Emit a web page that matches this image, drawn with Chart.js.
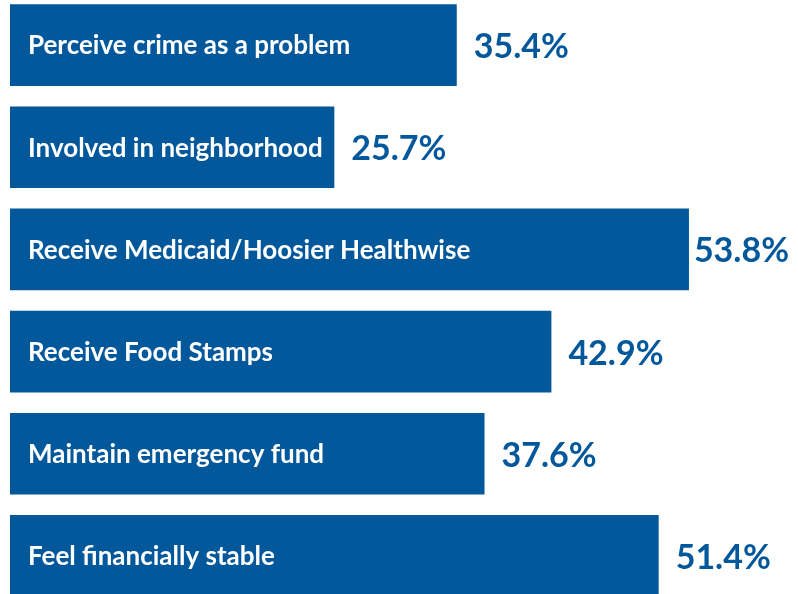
<!DOCTYPE html>
<html>
<head>
<meta charset="utf-8">
<script src="https://cdn.jsdelivr.net/npm/chart.js@4.4.1/dist/chart.umd.min.js"></script>
<style>
  html, body { margin: 0; padding: 0; background: #fff; overflow: hidden; }
  #wrap { position: absolute; left: 0; top: -6px; width: 798px; height: 613px; }
</style>
</head>
<body>
<div id="wrap"><canvas id="bars" width="798" height="613"></canvas></div>
<script>
var categories = [
	"Perceive crime as a problem",
	"Involved in neighborhood",
	"Receive Medicaid/Hoosier Healthwise",
	"Receive Food Stamps",
	"Maintain emergency fund",
	"Feel financially stable"
];
var percents = [35.4, 25.7, 53.8, 42.9, 37.6, 51.4];
var valueLabels = ["35.4%", "25.7%", "53.8%", "42.9%", "37.6%", "51.4%"];

var BLUE = "#03589b";
var FONT = "Lato, 'Open Sans', sans-serif";

// white names inside the bars, blue percentages just past the bar ends
var barText = {
	id: "barText",
	afterDatasetsDraw: function(chart) {
		var ctx = chart.ctx;
		var meta = chart.getDatasetMeta(0);
		ctx.save();
		ctx.textBaseline = "alphabetic";
		ctx.textAlign = "left";
		for (var i = 0; i < meta.data.length; i++) {
			var bar = meta.data[i];
			ctx.fillStyle = "#ffffff";
			ctx.font = "bold 26px " + FONT;
			ctx.fillText(categories[i], bar.base + 18, bar.y + 9.3);
			ctx.fillStyle = BLUE;
			ctx.font = "bold 34px " + FONT;
			var w = ctx.measureText(valueLabels[i]).width;
			// keep the longest value inside the canvas
			var x = Math.min(bar.x + 17, chart.width - 9 - w);
			ctx.fillText(valueLabels[i], x, bar.y + 13);
		}
		ctx.restore();
	}
};

new Chart(document.getElementById("bars").getContext("2d"), {
	type: "bar",
	data: {
		labels: categories,
		datasets: [{
			data: percents,
			backgroundColor: BLUE,
			borderWidth: 0,
			barPercentage: 0.8,
			categoryPercentage: 1.0
		}]
	},
	options: {
		indexAxis: "y",
		responsive: false,
		animation: false,
		layout: { padding: { left: 10, right: 0, top: 0, bottom: 0 } },
		scales: {
			x: { display: false, min: 0, max: 62.44 },
			y: { display: false }
		},
		plugins: {
			legend: { display: false },
			tooltip: { enabled: false }
		}
	},
	plugins: [barText]
});
</script>
</body>
</html>
